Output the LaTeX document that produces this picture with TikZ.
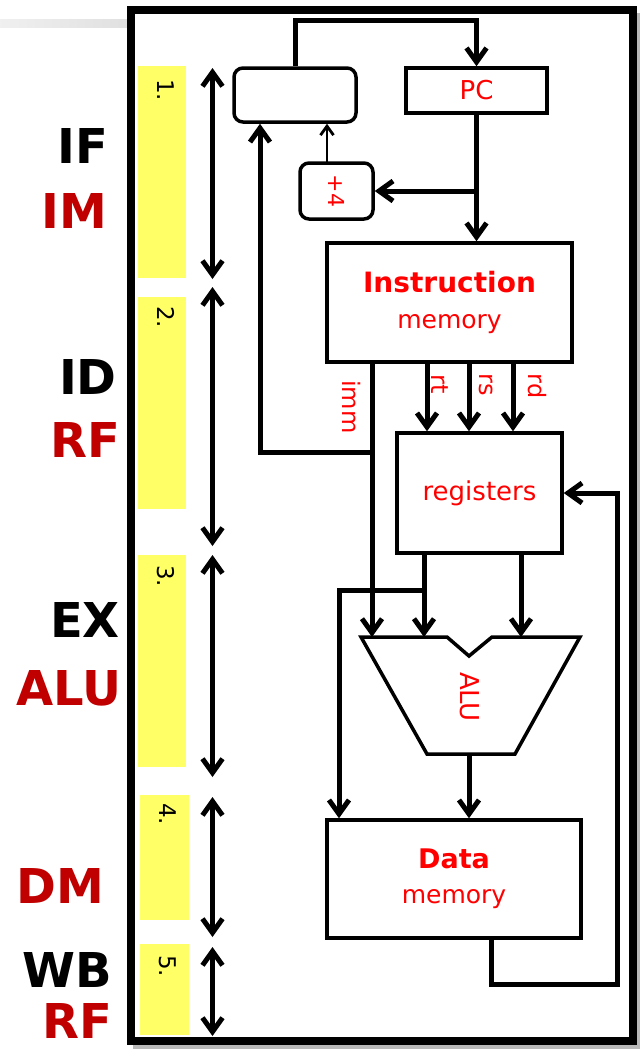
\documentclass[tikz,border=0pt]{standalone}
\usepackage{fontspec}
\setmainfont{DejaVu Sans}
\usetikzlibrary{arrows.meta,calc}
\definecolor{dred}{HTML}{C00000}
\definecolor{barY}{HTML}{FFFF66}
\tikzset{
  tipbarb/.tip={Straight Barb[length=14pt,width=20pt,line width=5pt]},
  conn/.style={line width=5pt,-tipbarb},
  thinconn/.style={line width=2.8pt,-{Straight Barb[length=9pt,width=13pt,line width=2.8pt]}},
  dbl/.style={line width=5pt,tipbarb-tipbarb},
  box/.style={draw,line width=3.5pt,inner sep=0pt,text=red,align=center},
  lbl/.style={font=\fontsize{48}{52}\selectfont\bfseries,inner sep=0pt,anchor=east},
  num/.style={font=\fontsize{23}{26}\selectfont,inner sep=0pt,rotate=-90,anchor=west},
  rlab/.style={font=\fontsize{24}{28}\selectfont,text=red,inner sep=0pt,rotate=-90},
  ybar/.style={fill=barY}
}
\begin{document}
\begin{tikzpicture}[x=1pt,y=-1pt]
\useasboundingbox (0,0) rectangle (640,1050);

% top-left gray bar
\shade[left color=gray!12,right color=gray!24] (0,19) rectangle (127,27);

% frame with shadow
\draw[gray!55,line width=6pt] (136,16) rectangle (637,1046);
\fill[white] (130.5,10) rectangle (633,1040.5);
\draw[line width=8pt] (130.5,10) rectangle (633,1040.5);

% stage labels
\node[lbl] (lIF) at (108,146) {IF};
\node[lbl,text=dred] (lIM) at (107,211) {IM};
\node[lbl] (lID) at (117,377) {ID};
\node[lbl,text=dred] (lRF1) at (120,440) {RF};
\node[lbl] (lEX) at (120,620) {EX};
\node[lbl,text=dred] (lALU) at (122,688) {ALU};
\node[lbl,text=dred] (lDM) at (104,886) {DM};
\node[lbl] (lWB) at (112,970) {WB};
\node[lbl,text=dred] (lRF2) at (112,1021) {RF};

% yellow bars
\fill[ybar] (137.5,66) rectangle (186,278);
\fill[ybar] (137.5,297) rectangle (186,509);
\fill[ybar] (137.5,555) rectangle (186,767);
\fill[ybar] (139.5,795) rectangle (188.5,920);
\fill[ybar] (139.5,944) rectangle (188.5,1035);

\node[num] (n1) at (166,79) {1.};
\node[num] (n2) at (166,306) {2.};
\node[num] (n3) at (166,565) {3.};
\node[num] (n4) at (168,803) {4.};
\node[num] (n5) at (168,955) {5.};

% stage double arrows
\coordinate (s1a) at (212.5,68);  \coordinate (s1b) at (212.5,279);
\coordinate (s2a) at (212.5,287); \coordinate (s2b) at (212.5,546);
\coordinate (s3a) at (212.5,555); \coordinate (s3b) at (212.5,777);
\coordinate (s4a) at (212.5,797); \coordinate (s4b) at (212.5,937);
\coordinate (s5a) at (212.5,947); \coordinate (s5b) at (212.5,1036);
\draw[dbl] (s1a) -- (s1b);
\draw[dbl] (s2a) -- (s2b);
\draw[dbl] (s3a) -- (s3b);
\draw[dbl] (s4a) -- (s4b);
\draw[dbl] (s5a) -- (s5b);

% boxes
\node[box,rounded corners=9pt,minimum width=122pt,minimum height=54pt] (mux) at (295,95) {};
\node[box,minimum width=141pt,minimum height=45pt,font=\fontsize{26}{30}\selectfont] (PC) at (476.5,90.5) {PC};
\node[box,rounded corners=9pt,minimum width=73pt,minimum height=56pt] (plus4) at (336.5,191) {};
\node[rlab,font=\fontsize{22}{26}\selectfont] (plus4t) at (plus4.center) {+4};
\node[box,minimum width=245pt,minimum height=119pt,font=\fontsize{25}{36}\selectfont] (IM) at (449.5,302.5)
  {{\fontsize{28}{36}\selectfont\bfseries Instruction}\\memory};
\node[box,minimum width=165pt,minimum height=120pt,font=\fontsize{26}{30}\selectfont] (REG) at (479.5,493) {registers};
\node[box,minimum width=254pt,minimum height=118pt,font=\fontsize{25}{35}\selectfont] (DM) at (454,879)
  {{\fontsize{27}{35}\selectfont\bfseries Data}\\memory};

% ALU
\coordinate (aTL) at (361,637);
\coordinate (aN1) at (447,637);
\coordinate (aNB) at (469,656);
\coordinate (aN2) at (492,637);
\coordinate (aTR) at (580,637);
\coordinate (aBR) at (515,754);
\coordinate (aBL) at (427,754);
\draw[line width=3.5pt] (aTL) -- (aN1) -- (aNB) -- (aN2) -- (aTR) -- (aBR) -- (aBL) -- cycle;
\node[rlab,font=\fontsize{26}{30}\selectfont] (alu) at (470,697) {ALU};
\coordinate (aOut) at (469,754);

% IF connectors
\draw[conn] (mux.north) -- ++(0,-46) -| (PC.north);
\draw[conn] (PC.south) -- (PC.south |- IM.north);
\draw[conn] (PC.south |- plus4.east) -- (plus4.east);
\coordinate (p4o) at (327,163);
\draw[thinconn] (p4o) -- (p4o |- mux.south);

% IM outputs
\coordinate (immS) at (372,362);
\coordinate (fbL) at (260,452);
\draw[conn] (immS) -- (immS |- aTL);
\draw[conn] (immS |- fbL) -- (fbL) -- (fbL |- mux.south);
\coordinate (rtS) at (427,362);
\coordinate (rsS) at (469,362);
\coordinate (rdS) at (513,362);
\draw[conn] (rtS) -- (rtS |- REG.north);
\draw[conn] (rsS) -- (rsS |- REG.north);
\draw[conn] (rdS) -- (rdS |- REG.north);
\node[rlab] (limm) at (352,407) {imm};
\node[rlab] (lrt) at (440,384) {rt};
\node[rlab] (lrs) at (486,385) {rs};
\node[rlab] (lrd) at (537,386) {rd};

% register outputs
\coordinate (r1) at (424,553);
\coordinate (r2) at (521,553);
\coordinate (brL) at (339,590);
\draw[conn] (r1) -- (r1 |- aTL);
\draw[conn] (r2) -- (r2 |- aTL);
\draw[conn] (r1 |- brL) -- (brL) -- (brL |- DM.north);

% ALU to DM
\draw[conn] (aOut) -- (aOut |- DM.north);

% write back
\coordinate (dmO) at (491,938);
\coordinate (fbR) at (617,984);
\draw[conn] (dmO) -- (dmO |- fbR) -- (fbR) -- (fbR |- REG.east) -- (REG.east);

\end{tikzpicture}
\end{document}
